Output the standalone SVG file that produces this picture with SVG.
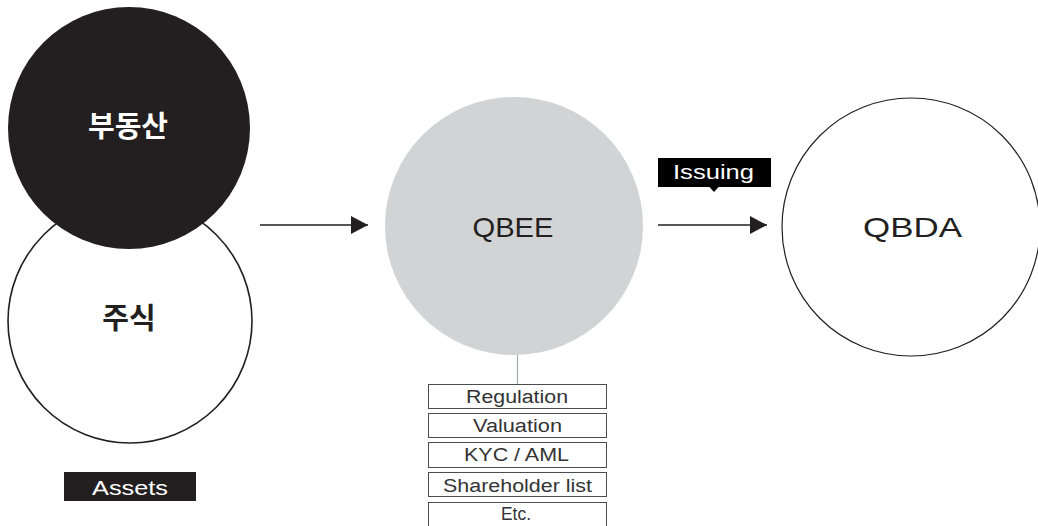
<svg xmlns="http://www.w3.org/2000/svg" width="1038" height="526" viewBox="0 0 1038 526">
  <defs>
    <marker id="arrow" markerUnits="userSpaceOnUse" markerWidth="18" markerHeight="18" refX="17" refY="9" orient="auto">
      <path d="M0,0 L17,9 L0,18 Z" fill="#231f20"/>
    </marker>
  </defs>
  <style>
    .ko { font-family: "Noto Sans CJK KR", "Noto Sans", sans-serif; font-weight: 700; font-size: 29px; text-anchor: middle; }
    .lat { font-family: "Liberation Sans", Arial, sans-serif; text-anchor: middle; }
    .big { font-size: 28px; fill: #231f20; }
    .tag { font-size: 21px; fill: #ffffff; }
    .item { font-size: 18px; fill: #333333; }
    .itembox { fill: #ffffff; stroke: #4d4d4f; stroke-width: 1; }
    .conn { stroke: #231f20; stroke-width: 1.3; fill: none; }
  </style>
  <rect width="1038" height="526" fill="#ffffff"/>

  <g id="node-stocks">
    <circle cx="130" cy="321" r="122" fill="#ffffff" stroke="#231f20" stroke-width="1.6"/>
    <text class="ko" x="129" y="329" fill="#231f20">주식</text>
  </g>

  <g id="node-realestate">
    <circle cx="129" cy="128" r="121" fill="#231f20"/>
    <text class="ko" x="128" y="137" fill="#ffffff">부동산</text>
  </g>

  <g id="label-assets">
    <rect x="64" y="472" width="132" height="29" fill="#231f20"/>
    <text class="lat tag" x="130" y="495" font-size="22" textLength="76" lengthAdjust="spacingAndGlyphs">Assets</text>
  </g>

  <g id="connectors">
    <line class="conn" x1="260" y1="225" x2="368" y2="225" marker-end="url(#arrow)"/>
    <line class="conn" x1="658" y1="225" x2="767" y2="225" marker-end="url(#arrow)"/>
    <line x1="517.5" y1="355" x2="517.5" y2="384" stroke="#a7a9ac" stroke-width="1.2"/>
  </g>

  <g id="node-qbee">
    <circle cx="514" cy="226" r="129" fill="#d1d3d4"/>
    <text class="lat big" x="513" y="237" textLength="81" lengthAdjust="spacingAndGlyphs">QBEE</text>
  </g>

  <g id="label-issuing">
    <rect x="658" y="158" width="113" height="29" fill="#000000"/>
    <path d="M709,186.5 L719,186.5 L714,192 Z" fill="#000000"/>
    <text class="lat tag" x="713.5" y="179" textLength="81" lengthAdjust="spacingAndGlyphs">Issuing</text>
  </g>

  <g id="node-qbda">
    <circle cx="911" cy="227" r="129" fill="#ffffff" stroke="#231f20" stroke-width="1.2"/>
    <text class="lat big" x="912.5" y="237" textLength="99" lengthAdjust="spacingAndGlyphs">QBDA</text>
  </g>

  <g id="node-requirements">
    <g id="item-regulation">
      <rect class="itembox" x="428.5" y="384.5" width="178" height="24"/>
      <text class="lat item" x="517" y="403" textLength="102" lengthAdjust="spacingAndGlyphs">Regulation</text>
    </g>
    <g id="item-valuation">
      <rect class="itembox" x="428.5" y="413.5" width="178" height="24"/>
      <text class="lat item" x="517.5" y="432" textLength="89" lengthAdjust="spacingAndGlyphs">Valuation</text>
    </g>
    <g id="item-kyc">
      <rect class="itembox" x="428.5" y="442.5" width="178" height="25"/>
      <text class="lat item" x="516.5" y="461" textLength="105" lengthAdjust="spacingAndGlyphs">KYC / AML</text>
    </g>
    <g id="item-shareholder">
      <rect class="itembox" x="428.5" y="472.5" width="178" height="24"/>
      <text class="lat item" x="517.5" y="491.5" textLength="149" lengthAdjust="spacingAndGlyphs">Shareholder list</text>
    </g>
    <g id="item-etc">
      <rect class="itembox" x="428.5" y="502.5" width="178" height="30"/>
      <text class="lat item" x="516" y="520" textLength="30" lengthAdjust="spacingAndGlyphs">Etc.</text>
    </g>
  </g>
</svg>
